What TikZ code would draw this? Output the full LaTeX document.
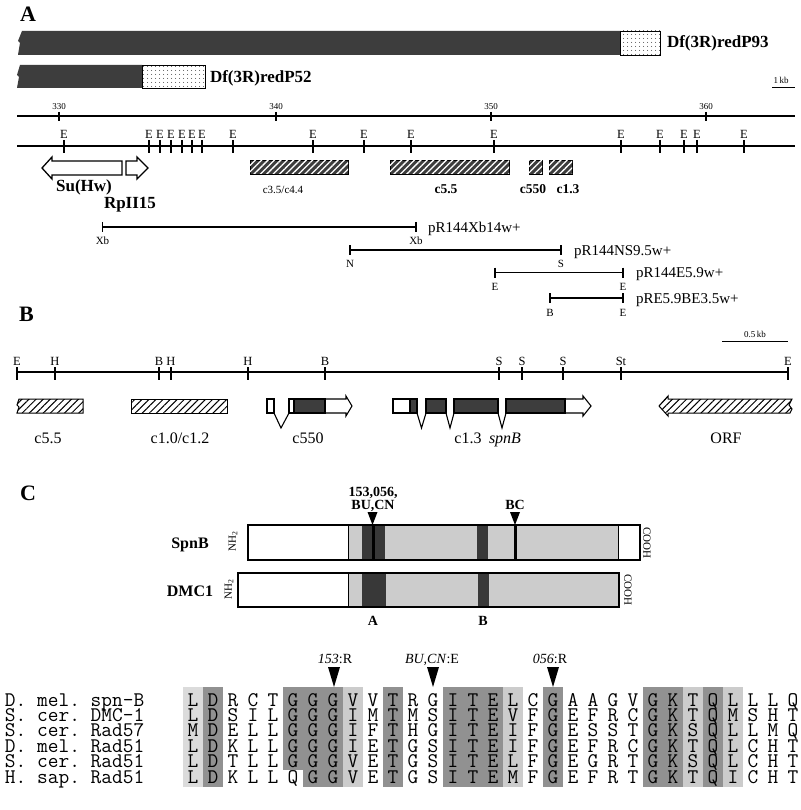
\documentclass[tikz,border=0pt]{standalone}
\usepackage{fontspec}
\setmainfont{Liberation Serif}
\usetikzlibrary{patterns,patterns.meta}
\definecolor{darkbar}{gray}{0.24}
\definecolor{alndark}{gray}{0.57}
\definecolor{alnlight}{gray}{0.80}
\definecolor{alnpale}{gray}{0.86}
\definecolor{domgray}{gray}{0.80}
\definecolor{domdark}{gray}{0.22}
\newcommand{\fsz}[1]{\fontsize{#1}{#1}\selectfont}
\frenchspacing
\tikzset{
  txt/.style={inner sep=0pt, outer sep=0pt, anchor=base},
  panellbl/.style={txt, anchor=base west, font=\fsz{22}\bfseries},
  dflbl/.style={txt, anchor=base west, font=\fsz{17}\bfseries},
  sitelbl/.style={txt, font=\fsz{12.5}},
  ticklbl/.style={txt, font=\fsz{9}},
  smalllbl/.style={txt, font=\fsz{11}},
  boldsmall/.style={txt, font=\fsz{13.5}\bfseries},
  genelbl/.style={txt, font=\fsz{17}\bfseries},
  bllbl/.style={txt, font=\fsz{16}},
  clonelbl/.style={inner sep=0pt, outer sep=0pt, anchor=west, font=\fsz{15}},
  clendlbl/.style={txt, font=\fsz{11}},
  domlbl/.style={txt, font=\fsz{14}\bfseries},
  protlbl/.style={txt, font=\fsz{16}\bfseries},
  termlbl/.style={inner sep=0pt, outer sep=0pt, anchor=center, font=\fsz{11}},
  mklbl/.style={txt, font=\fsz{14}},
  seqname/.style={txt, anchor=base west, font=\fsz{20.8}\ttfamily, text height=12pt, text depth=2pt},
  residue/.style={txt, font=\fsz{20.8}\ttfamily, text height=12pt, text depth=2pt},
  darkhatch/.style={fill=darkbar, postaction={pattern={Lines[angle=45,distance=4.5pt,line width=1.3pt]}, pattern color=white}},
  lighthatch/.style={fill=white, postaction={pattern={Lines[angle=45,distance=5pt,line width=1pt]}, pattern color=black}},
  stipple/.style={fill=white, postaction={pattern={Dots[distance=4pt,radius=0.55pt]}, pattern color=black}},
  openbox/.style={draw=black, fill=white, line width=1.1pt},
  exonbox/.style={draw=black, fill=darkbar, line width=1.1pt},
  intron/.style={line width=1.1pt},
  clone/.style={line width=1.8pt},
  clonetick/.style={line width=1.3pt},
}
\begin{document}
\begin{tikzpicture}[x=1pt,y=-1pt]
\fill[white] (0,0) rectangle (800,810);
\useasboundingbox (0,0) rectangle (800,810);

% ================= Panel A =================
\node[panellbl] (labA) at (20,22) {A};
\fill[darkbar] (22,31) -- (620,31) -- (620,55) -- (18,55) -- (20,43) -- (18,41) -- cycle;
\draw[stipple, line width=0.8pt] (620,31) rectangle (660,55);
\node[dflbl] (d93) at (667,48) {Df(3R)redP93};
\fill[darkbar] (20,65) -- (142,65) -- (142,88) -- (17,88) -- (19,77) -- (17,75) -- cycle;
\draw[stipple, line width=0.8pt] (142,65) rectangle (205,88);
\node[dflbl] (d52) at (210,83) {Df(3R)redP52};
\node[ticklbl] (kb1) at (781,84) {1\,kb};
\draw[line width=1pt] (772,88) -- (795,88);

% ruler
\draw[line width=1.3pt] (17,116) -- (795,116);
\foreach \x/\t in {59/330,276/340,491/350,706/360}{
  \draw[line width=1.5pt] (\x,112) -- (\x,121);
  \node[ticklbl] (t\t) at (\x,110) {\t};
}
% EcoRI map
\draw[line width=2.6pt] (17,146) -- (795,146);
\foreach \x [count=\i] in {64,149,160,171,182,192,202,233,313,364,411,494,621,660,684,697,744}{
  \draw[line width=1.4pt] (\x,140) -- (\x,153);
  \node[sitelbl] (e\i) at (\x,138.5) {E};
}
% genes
\draw[openbox, line width=1.3pt] (42,168) -- (52,157) -- (52,161) -- (122,161) -- (122,175) -- (52,175) -- (52,179) -- cycle;
\draw[openbox, line width=1.3pt] (126,161) -- (137,161) -- (137,157) -- (148,168) -- (137,179) -- (137,175) -- (126,175) -- cycle;
\node[genelbl] (suhw) at (84,192) {Su(Hw)};
\node[genelbl] (rp) at (130,209) {RpII15};
\foreach \a/\b in {250/348,390/509,529/542,549/572}{
  \draw[darkhatch, line width=0.8pt] (\a,160) rectangle (\b,174);
}
\node[smalllbl] (c35) at (283,194) {c3.5/c4.4};
\node[boldsmall] (c55a) at (446,194) {c5.5};
\node[boldsmall] (c550a) at (533,194) {c550};
\node[boldsmall] (c13a) at (568,194) {c1.3};

% rescue constructs
\coordinate (xa) at (102.5,227); \coordinate (xb) at (416,227);
\draw[clone] (xa) -- (xb);
\draw[clonetick] (102.5,222) -- (102.5,232) (416,222) -- (416,232);
\node[clendlbl] (xal) at (102.5,244) {Xb};
\node[clendlbl] (xbl) at (416,244) {Xb};
\node[clonelbl] (p1) at (428,229) {pR144Xb14w+};

\coordinate (na) at (350,250); \coordinate (nb) at (561,250);
\draw[clone] (na) -- (nb);
\draw[clonetick] (350,245) -- (350,255) (561,245) -- (561,255);
\node[clendlbl] (nal) at (350,267) {N};
\node[clendlbl] (nbl) at (561,267) {S};
\node[clonelbl] (p2) at (574,252) {pR144NS9.5w+};

\coordinate (ea) at (495,272.5); \coordinate (eb) at (623,272.5);
\draw[clone] (ea) -- (eb);
\draw[clonetick] (495,267.5) -- (495,277.5) (623,267.5) -- (623,277.5);
\node[clendlbl] (eal) at (495,290) {E};
\node[clendlbl] (ebl) at (623,290) {E};
\node[clonelbl] (p3) at (636,274) {pR144E5.9w+};

\coordinate (ba) at (550,298); \coordinate (bb) at (623,298);
\draw[clone] (ba) -- (bb);
\draw[clonetick] (550,293) -- (550,303) (623,293) -- (623,303);
\node[clendlbl] (bal) at (550,316) {B};
\node[clendlbl] (bbl) at (623,316) {E};
\node[clonelbl] (p4) at (636,300) {pRE5.9BE3.5w+};

% ================= Panel B =================
\node[panellbl] (labB) at (19,321) {B};
\node[ticklbl] (kb05) at (755,337) {0.5\,kb};
\draw[line width=1pt] (722,341) -- (788,341);
\draw[line width=1.5pt] (17,372) -- (788,372);
\foreach \x/\t [count=\i] in {17/E,55/H,159/B,171/H,248/H,325/B,499/S,522/S,563/S,621/St,788/E}{
  \draw[line width=1.5pt] (\x,367) -- (\x,380);
  \node[sitelbl] (bs\i) at (\x,365) {\t};
}
\draw[lighthatch, line width=1pt] (19,399) -- (83,399) -- (83,413) -- (17,413) -- (19,407) -- (17,405) -- cycle;
\draw[lighthatch, line width=1pt] (131,399) rectangle (227,413);
% c550
\draw[openbox] (267,399) rectangle (274,413);
\draw[intron] (274,413) -- (281,428) -- (289,413);
\draw[openbox] (289,399) rectangle (294,413);
\draw[openbox] (325,399) -- (346,399) -- (346,396) -- (352,406) -- (346,416) -- (346,413) -- (325,413);
\draw[exonbox] (294,399) rectangle (325,413);
% c1.3 spnB
\draw[openbox] (393,399) rectangle (410,413);
\draw[exonbox] (410,399) rectangle (417,413);
\draw[intron] (417,413) -- (421.5,428) -- (426,413);
\draw[exonbox] (426,399) rectangle (446,413);
\draw[intron] (446,413) -- (450,428) -- (454,413);
\draw[exonbox] (454,399) rectangle (498,413);
\draw[intron] (498,413) -- (502,428) -- (506,413);
\draw[openbox] (565,399) -- (583,399) -- (583,396) -- (591,406) -- (583,416) -- (583,413) -- (565,413);
\draw[exonbox] (506,399) rectangle (565,413);
% ORF
\draw[lighthatch, line width=1pt] (659,406) -- (668,396) -- (668,399) -- (792,399) -- (789,405) -- (792,409) -- (790,413) -- (668,413) -- (668,416) -- cycle;
\node[bllbl] (bc55) at (48,443) {c5.5};
\node[bllbl] (bc10) at (180,443) {c1.0/c1.2};
\node[bllbl] (bc550) at (308,443) {c550};
\node[bllbl] (bc13) at (468,443) {c1.3};
\node[bllbl, font=\fsz{16}\itshape] (bspnb) at (505,443) {spnB};
\node[bllbl] (borf) at (726,443) {ORF};

% ================= Panel C =================
\node[panellbl] (labC) at (20,500) {C};
% SpnB
\fill[domgray] (348,525) rectangle (618,560);
\fill[domdark] (362,525) rectangle (385,560);
\fill[black] (371.5,525) rectangle (374.5,560);
\fill[domdark] (477,525) rectangle (488,560);
\fill[black] (513.5,525) rectangle (516.5,560);
\draw[line width=1.3pt] (248,525) rectangle (640,560);
\draw[line width=1pt] (348,525) -- (348,560) (618,525) -- (618,560);
\fill (367.5,512) -- (377.5,512) -- (372.5,525) -- cycle;
\fill (510,512) -- (520,512) -- (515,525) -- cycle;
\node[domlbl] (m1) at (373,496) {153,056,};
\node[domlbl] (m2) at (373,509) {BU,CN};
\node[domlbl] (m3) at (515,509) {BC};
\node[protlbl] (spnb) at (190,548) {SpnB};
\node[termlbl, rotate=90] (nh1) at (233,541) {NH\textsubscript{2}};
\node[termlbl, rotate=-90] (co1) at (647,543) {COOH};
% DMC1
\fill[domgray] (348,573) rectangle (619,607);
\fill[domdark] (362,573) rectangle (386,607);
\fill[domdark] (478,573) rectangle (489,607);
\draw[line width=1.3pt] (238,573) rectangle (619,607);
\draw[line width=1pt] (348,573) -- (348,607);
\node[protlbl] (dmc) at (190,596) {DMC1};
\node[termlbl, rotate=90] (nh2) at (229,589) {NH\textsubscript{2}};
\node[termlbl, rotate=-90] (co2) at (628,590) {COOH};
\node[domlbl] (dA) at (373,625) {A};
\node[domlbl] (dB) at (483,625) {B};

% ================= Alignment =================
\fill[alnpale] (183,687) rectangle (203,787);
\fill[alndark] (203,687) rectangle (223,787);
\fill[alndark] (283,687) rectangle (343,769.5);
\fill[alndark] (303,769.5) rectangle (343,787);
\fill[alnlight] (343,687) rectangle (363,787);
\fill[alndark] (383,687) rectangle (403,787);
\fill[alndark] (443,687) rectangle (503,787);
\fill[alnlight] (503,687) rectangle (523,787);
\fill[alndark] (543,687) rectangle (563,787);
\fill[alndark] (643,687) rectangle (683,787);
\fill[alnlight] (683,687) rectangle (703,787);
\fill[alndark] (703,687) rectangle (723,787);
\fill[alnlight] (723,687) rectangle (743,787);

\fill (328,667) -- (340,667) -- (334,687) -- cycle;
\fill (427,667) -- (439,667) -- (433,687) -- cycle;
\fill (547,667) -- (559,667) -- (553,687) -- cycle;
\node[mklbl] (mk1) at (335,663) {\textit{153}:R};
\node[mklbl] (mk2) at (432,663) {\textit{BU,CN}:E};
\node[mklbl] (mk3) at (550,663) {\textit{056}:R};

\foreach \nm [count=\r] in {D. mel. spn-B, S. cer. DMC-1, S. cer. Rad57, D. mel. Rad51, S. cer. Rad51, H. sap. Rad51}{
  \node[seqname] (nm\r) at (5,{706+15.4*(\r-1)}) {\nm};
}
\foreach \sq [count=\r] in {
  {L,D,R,C,T,G,G,G,V,V,T,R,G,I,T,E,L,C,G,A,A,G,V,G,K,T,Q,L,L,L,Q},
  {L,D,S,I,L,G,G,G,I,M,T,M,S,I,T,E,V,F,G,E,F,R,C,G,K,T,Q,M,S,H,T},
  {M,D,E,L,L,G,G,G,I,F,T,H,G,I,T,E,I,F,G,E,S,S,T,G,K,S,Q,L,L,M,Q},
  {L,D,K,L,L,G,G,G,I,E,T,G,S,I,T,E,I,F,G,E,F,R,C,G,K,T,Q,L,C,H,T},
  {L,D,T,L,L,G,G,G,V,E,T,G,S,I,T,E,L,F,G,E,G,R,T,G,K,S,Q,L,C,H,T},
  {L,D,K,L,L,Q,G,G,V,E,T,G,S,I,T,E,M,F,G,E,F,R,T,G,K,T,Q,I,C,H,T}}{
  \foreach \aa [count=\c] in \sq {
    \node[residue] (s\r-\c) at ({193+20*(\c-1)},{706+15.4*(\r-1)}) {\aa};
  }
}
\end{tikzpicture}
\end{document}
